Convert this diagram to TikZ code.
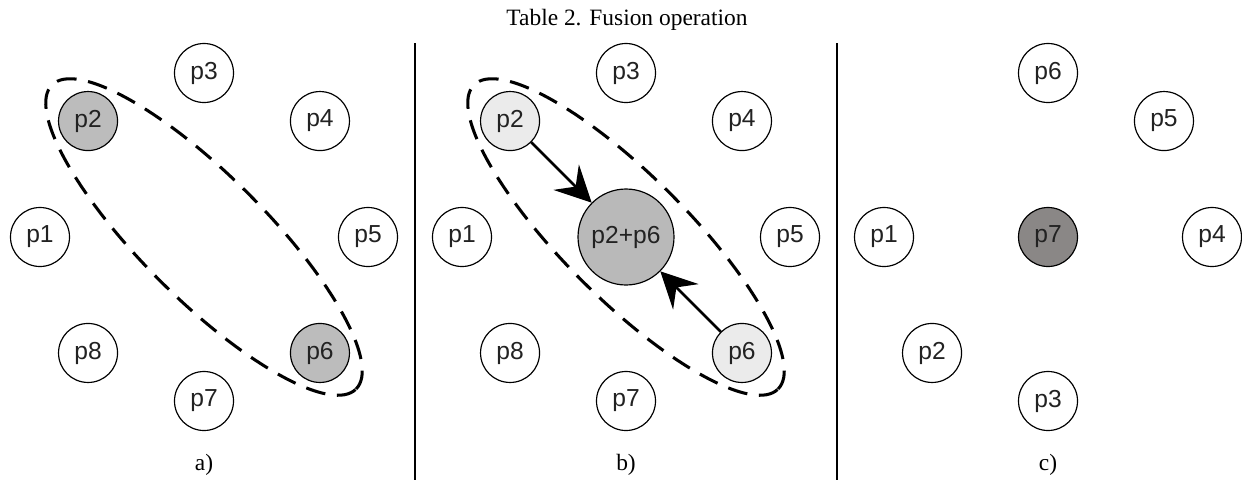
\documentclass[tikz,border=0pt]{standalone}
\usepackage{fontspec}
\setmainfont{Liberation Serif}
\setsansfont{Liberation Sans}
\usetikzlibrary{positioning,arrows.meta}

\definecolor{pickgray}{HTML}{BCBCBC}
\definecolor{palegray}{HTML}{EBEBEB}
\definecolor{fusedgray}{HTML}{B9B9B9}
\definecolor{newgray}{HTML}{8A8786}
\definecolor{labelgray}{HTML}{222222}

\begin{document}
\begin{tikzpicture}[
    x=0.015cm,y=0.015cm,
    peer/.style={circle,draw,line width=0.5pt,minimum size=0.885cm,inner sep=0pt,font=\sffamily\fontsize{10.5}{12}\selectfont,text=labelgray},
    fused/.style={peer,minimum size=1.44cm,fill=fusedgray},
    group/.style={line width=1.3pt,dash pattern=on 8.5pt off 5pt},
    arrow/.style={-{Stealth[length=5.4mm,width=5.4mm,inset=2mm]},line width=1.1pt},
    sep/.style={line width=0.45pt}
    ]
    \useasboundingbox (0,0) rectangle (1242,480);

    \node (title) at (627,460) {Table 2. Fusion operation};

    % a) two peers picked
    \coordinate (ca) at (204,243);
    \draw[group,rotate around={-45:(ca)}] (ca) ellipse [x radius=215,y radius=62];
    \foreach \i/\ang/\fc in {1/180/white,2/135/pickgray,3/90/white,4/45/white,
                             5/0/white,6/-45/pickgray,7/-90/white,8/-135/white}
      \node[peer,fill=\fc] (a\i) at ([shift={(\ang:164)}]ca) {p\i};
    \node (laba) at (204,15) {a)};

    \draw[sep] (415,437) -- (415,0);

    % b) peers merged
    \coordinate (cb) at (626,243);
    \draw[group,rotate around={-45:(cb)}] (cb) ellipse [x radius=215,y radius=62];
    \foreach \i/\ang/\fc in {1/180/white,2/135/palegray,3/90/white,4/45/white,
                             5/0/white,6/-45/palegray,7/-90/white,8/-135/white}
      \node[peer,fill=\fc] (b\i) at ([shift={(\ang:164)}]cb) {p\i};
    \node[fused] (b26) at (cb) {p2+p6};
    \draw[arrow] (b2) -- (b26);
    \draw[arrow] (b6) -- (b26);
    \node (labb) at (626,15) {b)};

    \draw[sep] (837,437) -- (837,0);

    % c) renumbered ring
    \coordinate (cc) at (1048,243);
    \foreach \i/\ang in {1/180,2/-135,3/-90,4/0,5/45,6/90}
      \node[peer] (c\i) at ([shift={(\ang:164)}]cc) {p\i};
    \node[peer,fill=newgray] (c7) at (cc) {p7};
    \node (labc) at (1048,15) {c)};

\end{tikzpicture}
\end{document}
